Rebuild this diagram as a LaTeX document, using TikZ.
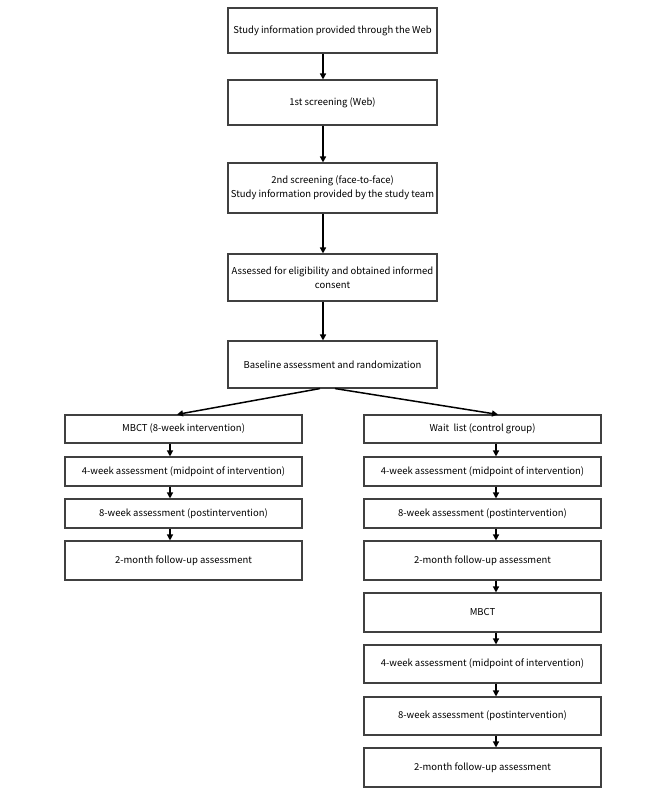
\documentclass[tikz,border=0pt]{standalone}
\usepackage{fontspec}
\setmainfont{Noto Sans CJK JP}
\usetikzlibrary{arrows.meta}
\begin{document}
\begin{tikzpicture}[x=1pt,y=-1pt,
  box/.style={draw=black!75,line width=1.1pt,inner sep=2pt,align=center,font=\fontsize{9.5}{14}\selectfont},
  topbox/.style={box,minimum width=209pt},
  colbox/.style={box,minimum width=237pt},
  arr/.style={line width=1.5pt,-{Triangle[length=6pt,width=6pt]}},
]
\useasboundingbox (0,0) rectangle (666,799);
\coordinate (ax) at (323,0);
\coordinate (lx) at (170,0);
\coordinate (rx) at (496,0);
\coordinate (ls) at (320,0);
\coordinate (rs) at (335,0);
\coordinate (le) at (177,0);
\coordinate (re) at (498,0);
\node[topbox,minimum height=45pt] (b1) at (332.5,30.5) {Study information provided through the Web};
\node[topbox,minimum height=45pt] (b2) at (332.5,102.5) {1st screening (Web)};
\node[topbox,minimum height=50pt] (b3) at (332.5,188) {2nd screening (face-to-face)\\Study information provided by the study team};
\node[topbox,minimum height=47pt] (b4) at (332.5,277.5) {Assessed for eligibility and obtained informed\\consent};
\node[topbox,minimum height=47pt] (b5) at (332.5,364.5) {Baseline assessment and randomization};
\node[colbox,minimum height=28pt] (l1) at (183.5,429) {MBCT (8-week intervention)};
\node[colbox,minimum height=29pt] (l2) at (183.5,471.5) {4-week assessment (midpoint of intervention)};
\node[colbox,minimum height=29pt] (l3) at (183.5,513.5) {8-week assessment (postintervention)};
\node[colbox,minimum height=39pt] (l4) at (183.5,560.5) {2-month follow-up assessment};
\node[colbox,minimum height=28pt] (r1) at (482.5,429) {Wait\ \ list (control group)};
\node[colbox,minimum height=29pt] (r2) at (482.5,471.5) {4-week assessment (midpoint of intervention)};
\node[colbox,minimum height=29pt] (r3) at (482.5,513.5) {8-week assessment (postintervention)};
\node[colbox,minimum height=39pt] (r4) at (482.5,560.5) {2-month follow-up assessment};
\node[colbox,minimum height=39pt] (r5) at (482.5,612.5) {MBCT};
\node[colbox,minimum height=38pt] (r6) at (482.5,664) {4-week assessment (midpoint of intervention)};
\node[colbox,minimum height=38pt] (r7) at (482.5,716) {8-week assessment (postintervention)};
\node[colbox,minimum height=39pt] (r8) at (482.5,767.5) {2-month follow-up assessment};
\foreach \a/\b in {b1/b2,b2/b3,b3/b4,b4/b5}
  \draw[arr] (\a.south -| ax) -- (\b.north -| ax);
\foreach \a/\b in {l1/l2,l2/l3,l3/l4}
  \draw[arr,line width=1.3pt] (\a.south -| lx) -- (\b.north -| lx);
\foreach \a/\b in {r1/r2,r2/r3,r3/r4,r4/r5,r5/r6,r6/r7,r7/r8}
  \draw[arr,line width=1.3pt] (\a.south -| rx) -- (\b.north -| rx);
\draw[arr] (b5.south -| ls) -- (l1.north -| le);
\draw[arr] (b5.south -| rs) -- (r1.north -| re);
\end{tikzpicture}
\end{document}
